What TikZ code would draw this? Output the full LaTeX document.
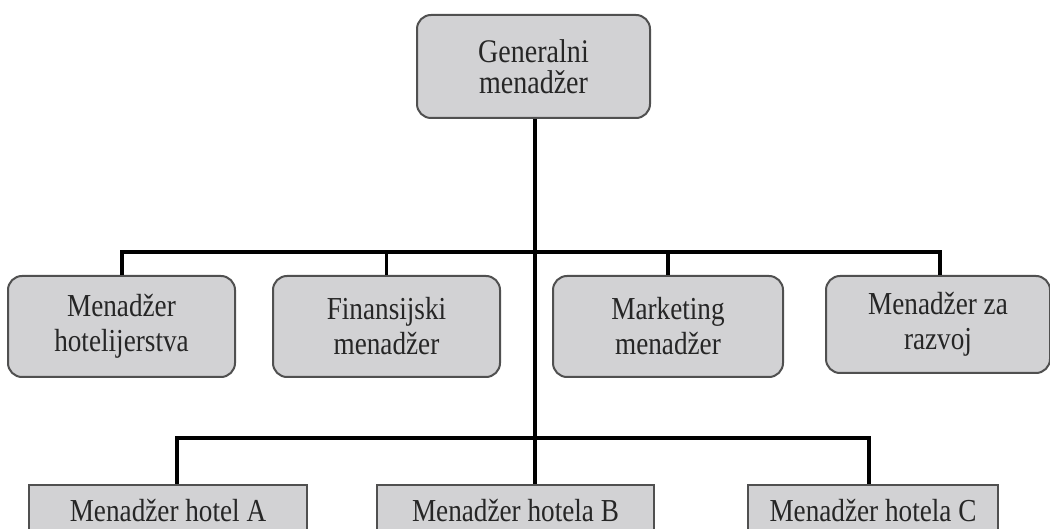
\documentclass[tikz,border=0pt]{standalone}
\usepackage{fontspec}
\setmainfont{Liberation Serif}[FakeStretch=0.85]
\definecolor{boxfill}{HTML}{D2D2D4}
\definecolor{boxline}{HTML}{505050}
\definecolor{txt}{HTML}{262626}
\tikzset{
  rbox/.style={draw=boxline, line width=2pt, fill=boxfill, rounded corners=14pt,
    align=center, text=txt, font=\fontsize{32}{35}\selectfont, inner sep=0pt},
  sbox/.style={draw=boxline, line width=2pt, fill=boxfill, text=txt,
    font=\fontsize{32}{34}\selectfont, inner xsep=0pt, inner ysep=0pt,
    text height=36pt, text depth=40pt},
  conn/.style={line width=3.8pt, black},
  conn2/.style={line width=3.2pt, black}
}
\begin{document}
\begin{tikzpicture}[x=1pt,y=-1pt]
\useasboundingbox (0,0) rectangle (1050,529);
\clip (0,0) rectangle (1050,529);
\fill[white] (0,0) rectangle (1050,529);
% top
\node[rbox, minimum width=233pt, minimum height=103pt, font=\fontsize{33}{31}\selectfont] (gm) at (533.5,66.5) {Generalni\\menadžer};
% second row
\node[rbox, minimum width=227pt, minimum height=101pt] (mh) at (121.5,326.5) {Menadžer\\hotelijerstva};
\node[rbox, minimum width=227pt, minimum height=101pt] (fm) at (386.5,326.5) {Finansijski\\menadžer};
\node[rbox, minimum width=230pt, minimum height=101pt] (mm) at (668,326.5) {Marketing\\menadžer};
\node[rbox, minimum width=224pt, minimum height=97pt] (mr) at (938,324.5) {Menadžer za\\razvoj};
% bottom row
\node[sbox, minimum width=278pt, anchor=north] (ha) at (168,484) {Menadžer hotel A};
\node[sbox, minimum width=277pt, anchor=north] (hb) at (515.5,484) {Menadžer hotela B};
\node[sbox, minimum width=250pt, anchor=north] (hc) at (873,484) {Menadžer hotela C};
% connectors
\coordinate (j1) at (535,252);
\coordinate (j2) at (535,438);
\coordinate (l1) at (122,252);
\coordinate (r1) at (940,252);
\coordinate (l2) at (177,438);
\coordinate (r2) at (869,438);
\draw[conn] (gm.south -| j1) -- (j1) -- (j2);
\draw[conn, line cap=rect] (l1) -- (r1);
\draw[conn] (l1) -- (mh.north -| l1);
\draw[conn] (386.5,252) -- (fm.north);
\draw[conn] (668,252) -- (mm.north);
\draw[conn] (r1) -- (mr.north -| r1);
\draw[conn2, line cap=rect] (l2) -- (r2);
\draw[conn2] (l2) -- (ha.north -| l2);
\draw[conn2] (j2) -- (hb.north -| j2);
\draw[conn2] (r2) -- (hc.north -| r2);
\end{tikzpicture}
\end{document}
